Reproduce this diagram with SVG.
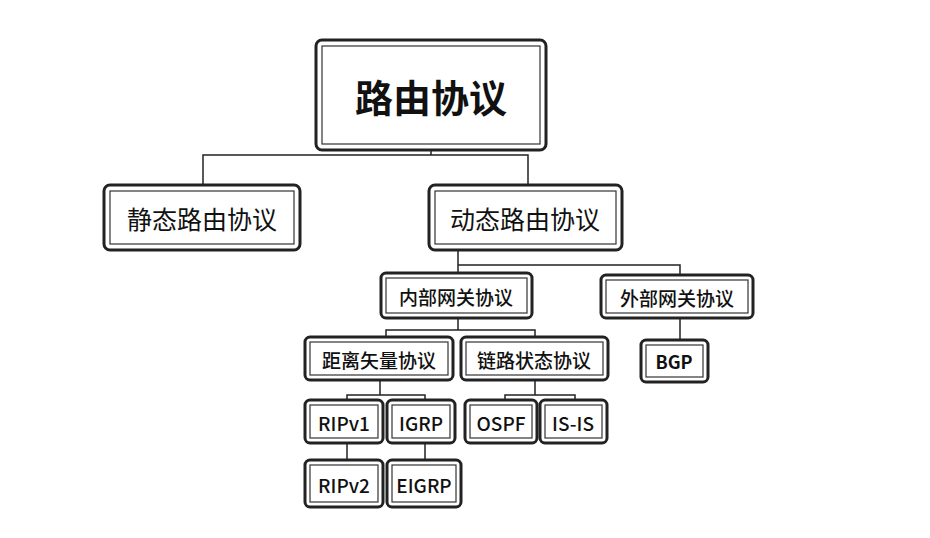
<svg xmlns="http://www.w3.org/2000/svg" width="930" height="538" viewBox="0 0 930 538">
<style>
.o{fill:#fff;stroke:#222;stroke-width:3}
.i{fill:#fff;stroke:#333;stroke-width:1.2}
text{font-family:"Noto Sans CJK SC","Liberation Sans",sans-serif;fill:#111;text-anchor:middle;dominant-baseline:central}
.s{font-size:19px;font-weight:500}
.c{fill:none;stroke:#222;stroke-width:1.5}
</style>
<rect width="930" height="538" fill="#fff"/>
<g id="connectors">
<path class="c" d="M431 150V155M203 185V155H528V185"/>
<path class="c" d="M458 250V265M458 273V265H680V275"/>
<path class="c" d="M458 318V330M386 337V330H535V337"/>
<path class="c" d="M680 318V340"/>
<path class="c" d="M380 380V395M347 400V395H425V400"/>
<path class="c" d="M535 380V395M505 400V395H575V400"/>
<path class="c" d="M347 443V460M425 443V460"/>
</g>
<g id="root"><rect class="o" x="316" y="40" width="230" height="110" rx="6"/><rect class="i" x="322" y="46" width="218" height="98"/><text x="431" y="95" font-size="38" font-weight="bold">路由协议</text></g>
<g id="static"><rect class="o" x="104" y="185" width="196" height="65" rx="6"/><rect class="i" x="110" y="191" width="184" height="53"/><text x="202" y="218" font-size="25">静态路由协议</text></g>
<g id="dynamic"><rect class="o" x="429" y="185" width="193" height="65" rx="6"/><rect class="i" x="435" y="191" width="181" height="53"/><text x="525" y="218" font-size="25">动态路由协议</text></g>
<g id="igp"><rect class="o" x="381" y="273" width="151" height="45" rx="5"/><rect class="i" x="386" y="278" width="141" height="35"/><text class="s" x="456" y="296">内部网关协议</text></g>
<g id="egp"><rect class="o" x="601" y="275" width="152" height="43" rx="5"/><rect class="i" x="606" y="280" width="142" height="33"/><text class="s" x="677" y="297">外部网关协议</text></g>
<g id="dv"><rect class="o" x="305" y="337" width="148" height="43" rx="5"/><rect class="i" x="310" y="342" width="138" height="33"/><text class="s" x="379" y="359">距离矢量协议</text></g>
<g id="ls"><rect class="o" x="461" y="337" width="147" height="43" rx="5"/><rect class="i" x="466" y="342" width="137" height="33"/><text class="s" x="534" y="359">链路状态协议</text></g>
<g id="bgp"><rect class="o" x="641" y="340" width="67" height="42" rx="5"/><rect class="i" x="646" y="345" width="57" height="32"/><text x="674" y="361" font-size="18" font-weight="bold">BGP</text></g>
<g id="ripv1"><rect class="o" x="305" y="400" width="78" height="43" rx="5"/><rect class="i" x="310" y="405" width="68" height="33"/><text class="s" x="344" y="422">RIPv1</text></g>
<g id="igrp"><rect class="o" x="387" y="400" width="68" height="43" rx="5"/><rect class="i" x="392" y="405" width="58" height="33"/><text class="s" x="421" y="422">IGRP</text></g>
<g id="ospf"><rect class="o" x="465" y="400" width="72" height="43" rx="5"/><rect class="i" x="470" y="405" width="62" height="33"/><text class="s" x="501" y="422">OSPF</text></g>
<g id="isis"><rect class="o" x="540" y="400" width="67" height="43" rx="5"/><rect class="i" x="545" y="405" width="57" height="33"/><text class="s" x="573" y="422">IS-IS</text></g>
<g id="ripv2"><rect class="o" x="305" y="460" width="78" height="47" rx="5"/><rect class="i" x="310" y="465" width="68" height="37"/><text class="s" x="344" y="484">RIPv2</text></g>
<g id="eigrp"><rect class="o" x="387" y="460" width="74" height="47" rx="5"/><rect class="i" x="392" y="465" width="64" height="37"/><text class="s" x="424" y="484">EIGRP</text></g>
</svg>
